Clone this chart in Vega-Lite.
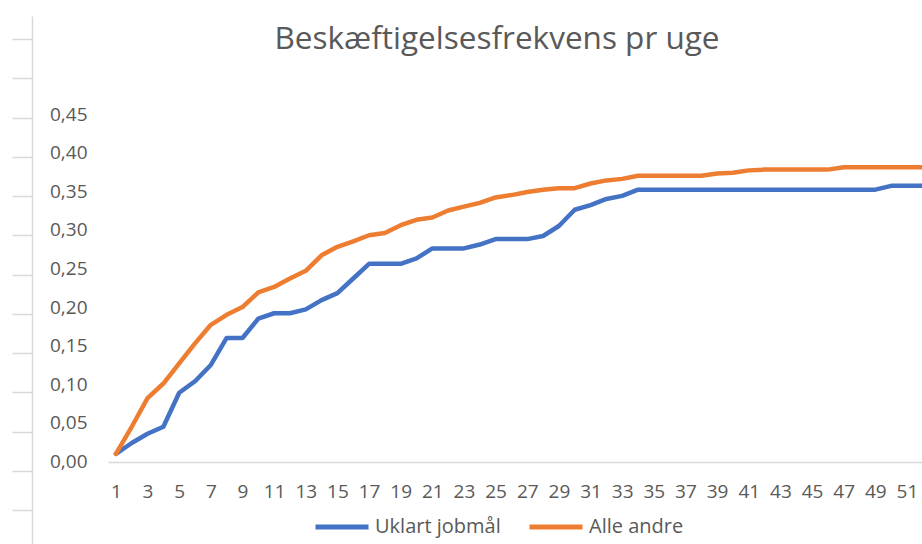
{
  "$schema": "https://vega.github.io/schema/vega-lite/v6.json",
  "autosize": {"type": "none"},
  "padding": {"left": 108, "top": 16, "right": 0, "bottom": 0},
  "width": 814,
  "height": 528,
  "background": "#ffffff",
  "config": {"view": {"stroke": null}, "font": "Open Sans"},
  "title": {
    "text": "Beskæftigelsesfrekvens pr uge",
    "font": "Open Sans",
    "fontSize": 31.5,
    "fontWeight": "normal",
    "color": "#595959",
    "anchor": "middle",
    "dx": -18,
    "offset": -64,
    "baseline": "alphabetic"
  },
  "data": {
    "values": [
      {"uge": 1, "Uklart jobmål": 0.010, "Alle andre": 0.010},
      {"uge": 2, "Uklart jobmål": 0.024, "Alle andre": 0.045},
      {"uge": 3, "Uklart jobmål": 0.036, "Alle andre": 0.082},
      {"uge": 4, "Uklart jobmål": 0.045, "Alle andre": 0.101},
      {"uge": 5, "Uklart jobmål": 0.089, "Alle andre": 0.127},
      {"uge": 6, "Uklart jobmål": 0.104, "Alle andre": 0.153},
      {"uge": 7, "Uklart jobmål": 0.125, "Alle andre": 0.177},
      {"uge": 8, "Uklart jobmål": 0.160, "Alle andre": 0.190},
      {"uge": 9, "Uklart jobmål": 0.160, "Alle andre": 0.200},
      {"uge": 10, "Uklart jobmål": 0.185, "Alle andre": 0.219},
      {"uge": 11, "Uklart jobmål": 0.192, "Alle andre": 0.226},
      {"uge": 12, "Uklart jobmål": 0.192, "Alle andre": 0.237},
      {"uge": 13, "Uklart jobmål": 0.197, "Alle andre": 0.247},
      {"uge": 14, "Uklart jobmål": 0.209, "Alle andre": 0.267},
      {"uge": 15, "Uklart jobmål": 0.218, "Alle andre": 0.278},
      {"uge": 16, "Uklart jobmål": 0.237, "Alle andre": 0.285},
      {"uge": 17, "Uklart jobmål": 0.256, "Alle andre": 0.293},
      {"uge": 18, "Uklart jobmål": 0.256, "Alle andre": 0.296},
      {"uge": 19, "Uklart jobmål": 0.256, "Alle andre": 0.306},
      {"uge": 20, "Uklart jobmål": 0.263, "Alle andre": 0.313},
      {"uge": 21, "Uklart jobmål": 0.276, "Alle andre": 0.316},
      {"uge": 22, "Uklart jobmål": 0.276, "Alle andre": 0.325},
      {"uge": 23, "Uklart jobmål": 0.276, "Alle andre": 0.330},
      {"uge": 24, "Uklart jobmål": 0.281, "Alle andre": 0.335},
      {"uge": 25, "Uklart jobmål": 0.288, "Alle andre": 0.342},
      {"uge": 26, "Uklart jobmål": 0.288, "Alle andre": 0.345},
      {"uge": 27, "Uklart jobmål": 0.288, "Alle andre": 0.349},
      {"uge": 28, "Uklart jobmål": 0.292, "Alle andre": 0.352},
      {"uge": 29, "Uklart jobmål": 0.305, "Alle andre": 0.354},
      {"uge": 30, "Uklart jobmål": 0.326, "Alle andre": 0.354},
      {"uge": 31, "Uklart jobmål": 0.332, "Alle andre": 0.360},
      {"uge": 32, "Uklart jobmål": 0.340, "Alle andre": 0.364},
      {"uge": 33, "Uklart jobmål": 0.344, "Alle andre": 0.366},
      {"uge": 34, "Uklart jobmål": 0.352, "Alle andre": 0.370},
      {"uge": 35, "Uklart jobmål": 0.352, "Alle andre": 0.370},
      {"uge": 36, "Uklart jobmål": 0.352, "Alle andre": 0.370},
      {"uge": 37, "Uklart jobmål": 0.352, "Alle andre": 0.370},
      {"uge": 38, "Uklart jobmål": 0.352, "Alle andre": 0.370},
      {"uge": 39, "Uklart jobmål": 0.352, "Alle andre": 0.373},
      {"uge": 40, "Uklart jobmål": 0.352, "Alle andre": 0.374},
      {"uge": 41, "Uklart jobmål": 0.352, "Alle andre": 0.377},
      {"uge": 42, "Uklart jobmål": 0.352, "Alle andre": 0.378},
      {"uge": 43, "Uklart jobmål": 0.352, "Alle andre": 0.378},
      {"uge": 44, "Uklart jobmål": 0.352, "Alle andre": 0.378},
      {"uge": 45, "Uklart jobmål": 0.352, "Alle andre": 0.378},
      {"uge": 46, "Uklart jobmål": 0.352, "Alle andre": 0.378},
      {"uge": 47, "Uklart jobmål": 0.352, "Alle andre": 0.381},
      {"uge": 48, "Uklart jobmål": 0.352, "Alle andre": 0.381},
      {"uge": 49, "Uklart jobmål": 0.352, "Alle andre": 0.381},
      {"uge": 50, "Uklart jobmål": 0.357, "Alle andre": 0.381},
      {"uge": 51, "Uklart jobmål": 0.357, "Alle andre": 0.381},
      {"uge": 52, "Uklart jobmål": 0.357, "Alle andre": 0.381}
    ]
  },
  "transform": [{"fold": ["Uklart jobmål", "Alle andre"], "as": ["gruppe", "andel"]}],
  "encoding": {
    "x": {
      "field": "uge",
      "type": "quantitative",
      "scale": {"domain": [0.5, 51.95], "nice": false, "zero": false},
      "axis": {
        "title": null,
        "values": [1,3,5,7,9,11,13,15,17,19,21,23,25,27,29,31,33,35,37,39,41,43,45,47,49,51],
        "grid": false,
        "ticks": false,
        "tickSize": 0,
        "offset": -82,
        "domainColor": "#d9d9d9",
        "domainWidth": 1.5,
        "labelFont": "Open Sans",
        "labelFontSize": 19,
        "labelColor": "#595959",
        "labelPadding": 29,
        "labelBaseline": "middle",
        "labelFlush": false,
        "labelOverlap": false,
        "labelSeparation": 0,
        "labelBound": false
      }
    }
  },
  "layer": [
    {
      "mark": {"type": "line", "strokeWidth": 4.5, "clip": true, "strokeJoin": "round", "strokeCap": "round"},
      "encoding": {
        "y": {
          "field": "andel",
          "type": "quantitative",
          "scale": {"domain": [-0.1068, 0.5769], "nice": false, "zero": false},
          "axis": {
            "title": null,
            "orient": "left",
            "values": [0, 0.05, 0.1, 0.15, 0.2, 0.25, 0.3, 0.35, 0.4, 0.45],
            "labelExpr": "replace(format(datum.value, '.2f'), '.', ',')",
            "grid": false,
            "domain": false,
            "ticks": false,
            "tickSize": 0,
            "labelPadding": 21,
            "labelFont": "Open Sans",
            "labelFontSize": 19,
            "labelColor": "#595959"
          }
        },
        "color": {
          "field": "gruppe",
          "type": "nominal",
          "sort": ["Uklart jobmål", "Alle andre"],
          "scale": {"domain": ["Uklart jobmål", "Alle andre"], "range": ["#4472C4", "#ED7D31"]},
          "legend": {
            "title": null,
            "orient": "none",
            "legendX": 205,
            "legendY": 482,
            "direction": "horizontal",
            "symbolType": "stroke",
            "symbolSize": 2809,
            "symbolStrokeWidth": 5,
            "labelFont": "Open Sans",
            "labelFontSize": 20,
            "labelColor": "#595959",
            "labelOffset": 4,
            "columnPadding": 18,
            "padding": 0
          }
        }
      }
    },
    {
      "mark": {"type": "line", "strokeOpacity": 0},
      "encoding": {
        "y": {
          "field": "andel",
          "type": "quantitative",
          "scale": {"domain": [-0.866, 12.586], "nice": false, "zero": false},
          "axis": {
            "title": null,
            "orient": "left",
            "offset": 76,
            "values": [0,1,2,3,4,5,6,7,8,9,10,11,12],
            "labels": false,
            "grid": false,
            "domain": true,
            "domainColor": "#d9d9d9",
            "domainWidth": 1.5,
            "ticks": true,
            "tickSize": 20,
            "tickColor": "#d9d9d9",
            "tickWidth": 1.5
          }
        },
        "detail": {"field": "gruppe", "type": "nominal"}
      }
    }
  ],
  "resolve": {"scale": {"y": "independent"}, "axis": {"y": "independent"}}
}
